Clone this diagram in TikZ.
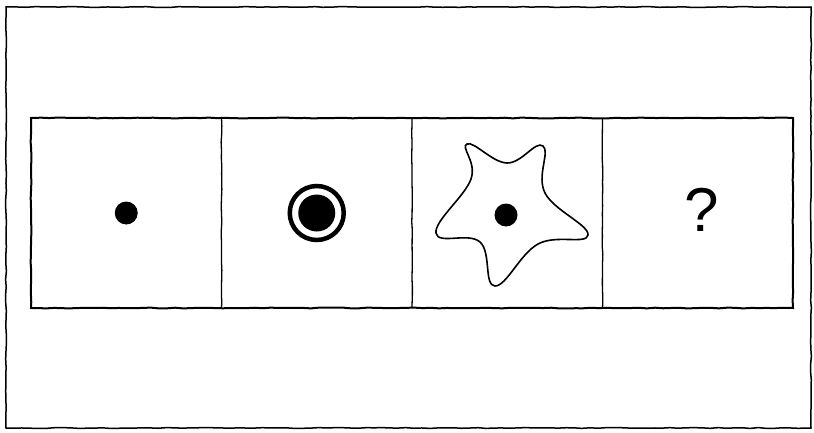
\documentclass[tikz,border=0pt]{standalone}
\usepackage{fontspec}
\newfontfamily\qfont{Liberation Sans}
\usetikzlibrary{positioning,decorations.pathmorphing}

\begin{document}
\begin{tikzpicture}[x=1pt,y=-1pt,
    sketch/.style={decorate,decoration={random steps,segment length=8pt,amplitude=0.4pt}},
    panel/.style={minimum width=190.5pt,minimum height=190pt,inner sep=0pt,outer sep=0pt},
    dot/.style={circle,fill,inner sep=0pt,minimum size=23pt}]
    \pgfmathsetseed{7}
    \useasboundingbox (0,0) rectangle (814,433);
    \draw[sketch,line width=1.5pt] (6,7) rectangle (811,428);
    \node[panel] (p1) at (126.25,213) {};
    \node[panel,right=0pt of p1] (p2) {};
    \node[panel,right=0pt of p2] (p3) {};
    \node[panel,right=0pt of p3] (p4) {};
    \draw[sketch,line width=2pt] (p1.north west) rectangle (p4.south east);
    \draw[sketch,line width=1.3pt] (p1.north east) -- (p1.south east);
    \draw[sketch,line width=1.3pt] (p2.north east) -- (p2.south east);
    \draw[sketch,line width=1.3pt] (p3.north east) -- (p3.south east);
    \node[dot] (d1) at (p1.center) {};
    \node[circle,draw,line width=4.5pt,minimum size=54pt,inner sep=0pt] (ring) at (p2.center) {};
    \node[dot,minimum size=37pt] (d2) at (p2.center) {};
    \draw[line width=1.6pt] plot[smooth cycle,tension=0.7] coordinates {
        (467,144) (507,163) (543,146) (545,193) (588,235)
        (538,244) (495,286) (480,242) (436,233) (471,179)};
    \node[dot] (d3) at (506,215) {};
    \node[font=\qfont\fontsize{62}{70}\selectfont] (q) at (702,210) {?};
\end{tikzpicture}
\end{document}
